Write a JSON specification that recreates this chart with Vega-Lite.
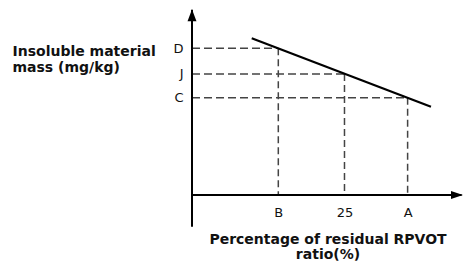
{
  "$schema": "https://vega.github.io/schema/vega-lite/v6.json",
  "width": 271,
  "height": 195,
  "autosize": {"type": "none"},
  "padding": {"left": 192, "top": 0, "right": 0, "bottom": 75},
  "background": "white",
  "config": {"view": {"stroke": null}, "font": "DejaVu Sans"},
  "datasets": {
    "axes": [
      {"x": 0, "y": -16.3, "x2": 0, "y2": 95.0},
      {"x": 0, "y": 0, "x2": 44.2, "y2": 0}
    ],
    "guides": [
      {"label": "D", "x": 14.15, "y": 75.2},
      {"label": "J", "x": 25, "y": 62.1},
      {"label": "C", "x": 35.35, "y": 49.9}
    ],
    "trend": [
      {"x": 9.79, "y": 80.36},
      {"x": 39.18, "y": 45.28}
    ],
    "arrows": [
      {"dir": "up", "x": 0, "y": 95.23},
      {"dir": "right", "x": 44.43, "y": 0}
    ]
  },
  "encoding": {
    "x": {
      "field": "x",
      "type": "quantitative",
      "scale": {"domain": [0, 44.43], "nice": false, "zero": false},
      "axis": {
        "values": [14.15, 25, 35.35],
        "labelExpr": "datum.value == 14.15 ? 'B' : datum.value == 35.35 ? 'A' : '25'",
        "domain": false,
        "ticks": false,
        "tickSize": 0,
        "grid": false,
        "labelOverlap": false,
        "labelPadding": 11,
        "labelFont": "DejaVu Sans",
        "labelFontSize": 13,
        "labelColor": "#111",
        "title": ["Percentage of residual RPVOT", "ratio(%)"],
        "titleFont": "DejaVu Sans",
        "titleFontSize": 14,
        "titleFontWeight": "bold",
        "titleColor": "#111",
        "titleLineHeight": 15,
        "titleBaseline": "alphabetic",
        "titleAlign": "center",
        "titleX": 135.5,
        "titleY": 48.5
      }
    },
    "y": {
      "field": "y",
      "type": "quantitative",
      "scale": {"domain": [0, 100], "nice": false, "zero": false},
      "axis": {
        "values": [49.9, 62.1, 75.2],
        "labelExpr": "datum.value == 75.2 ? 'D' : datum.value == 62.1 ? 'J' : 'C'",
        "domain": false,
        "ticks": false,
        "tickSize": 0,
        "grid": false,
        "labelOverlap": false,
        "labelPadding": 9,
        "labelFont": "DejaVu Sans",
        "labelFontSize": 13,
        "labelColor": "#111",
        "title": ["Insoluble material", "mass (mg/kg)"],
        "titleFont": "DejaVu Sans",
        "titleFontSize": 14,
        "titleFontWeight": "bold",
        "titleColor": "#111",
        "titleAngle": 0,
        "titleAlign": "left",
        "titleBaseline": "alphabetic",
        "titleLineHeight": 16,
        "titleX": -180,
        "titleY": 55
      }
    }
  },
  "layer": [
    {
      "data": {"name": "guides"},
      "mark": {"type": "rule", "stroke": "#444", "strokeWidth": 1.5, "strokeDash": [8, 4]},
      "encoding": {"x": {"datum": 0}, "x2": {"field": "x"}}
    },
    {
      "data": {"name": "guides"},
      "mark": {"type": "rule", "stroke": "#444", "strokeWidth": 1.5, "strokeDash": [7, 4]},
      "encoding": {"y2": {"datum": 0}}
    },
    {
      "data": {"name": "axes"},
      "mark": {"type": "rule", "stroke": "#000", "strokeWidth": 2},
      "encoding": {"x2": {"field": "x2"}, "y2": {"field": "y2"}}
    },
    {
      "data": {"name": "trend"},
      "mark": {"type": "line", "stroke": "#000", "strokeWidth": 2.2},
      "encoding": {}
    },
    {
      "data": {"name": "arrows"},
      "mark": {"type": "point", "filled": true, "size": 576, "color": "#000", "opacity": 1},
      "encoding": {
        "shape": {
          "field": "dir",
          "type": "nominal",
          "scale": {"domain": ["up", "right"], "range": ["M0,0L0.375,1L-0.375,1Z", "M0,0L-1,-0.33L-1,0.33Z"]},
          "legend": null
        }
      }
    }
  ]
}
